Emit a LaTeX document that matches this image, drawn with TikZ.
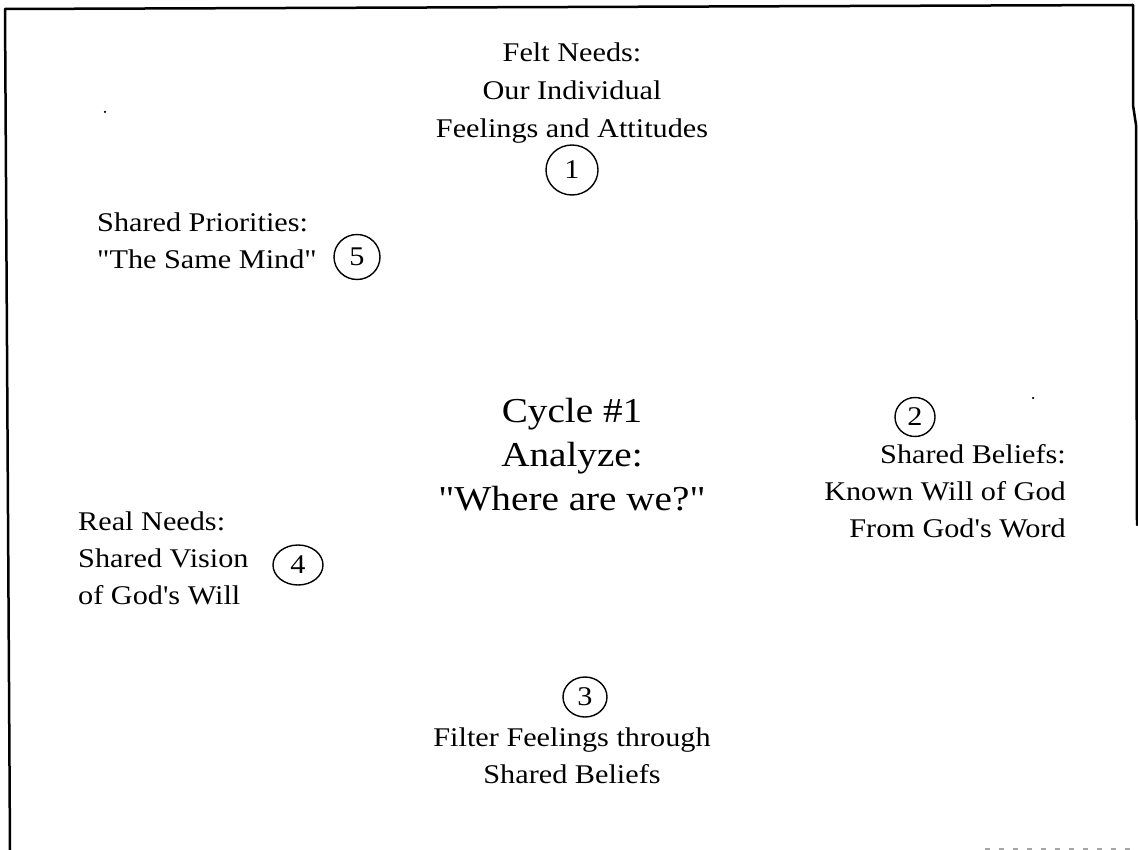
\documentclass[tikz,border=0pt]{standalone}
\usepackage{fontspec}
\setmainfont{Liberation Serif}[FakeStretch=1.12, Ligatures=TeXOff]
\usetikzlibrary{shapes.geometric}
\tikzset{
  txt/.style={inner sep=0pt, font=\fontsize{27}{37}\selectfont},
  big/.style={inner sep=0pt, font=\fontsize{35}{44}\selectfont},
  num/.style={draw, ellipse, inner sep=0pt, line width=1.4pt, font=\fontsize{27}{37}\selectfont},
  frame/.style={line width=2.5pt, line cap=round, line join=round},
  speck/.style={fill=black, circle, inner sep=0pt, minimum size=2.5pt}
}
\begin{document}
\begin{tikzpicture}[x=1pt,y=-1pt]
\useasboundingbox (0,0) rectangle (1138,850);
% frame
\draw[frame] (10,850) -- (5,9) -- (1133,5) -- (1133,105) -- (1136,125) -- (1137,525);
\draw[gray!70, line width=2pt, dash pattern=on 5pt off 9pt] (985,849) -- (1138,849);
% specks
\node[speck] (s1) at (105,112) {};
\node[speck] (s2) at (1033,398) {};
% text blocks
\node[txt, anchor=base] (felt) at (572,62)
  {\fontsize{27}{38}\selectfont\begin{tabular}[t]{@{}c@{}}Felt Needs:\\Our Individual\\Feelings and Attitudes\end{tabular}};
\node[num, minimum width=52pt, minimum height=50pt] (c1) at (572,170) {1};

\node[txt, anchor=base west] (prio) at (97,232)
  {\begin{tabular}[t]{@{}l@{}}Shared Priorities:\\"The Same Mind"\end{tabular}};
\node[num, minimum width=46pt, minimum height=45pt] (c5) at (357,257) {5\hspace{6pt}};

\node[big, anchor=base] (cycle) at (572,422)
  {\begin{tabular}[t]{@{}c@{}}Cycle \#1\\Analyze:\\"Where are we?"\end{tabular}};

\node[num, minimum width=40pt, minimum height=39pt] (c2) at (915,417) {2};
\node[txt, anchor=base east] (beliefs) at (1066,463)
  {\begin{tabular}[t]{@{}r@{}}Shared Beliefs:\\Known Will of God\\From God's Word\end{tabular}};

\node[txt, anchor=base west] (real) at (78,530)
  {\begin{tabular}[t]{@{}l@{}}Real Needs:\\Shared Vision\\of God's Will\end{tabular}};
\node[num, minimum width=50pt, minimum height=40pt] (c4) at (298,565) {4};

\node[num, minimum width=44pt, minimum height=40pt] (c3) at (585,697) {3};
\node[txt, anchor=base] (filter) at (572,746)
  {\begin{tabular}[t]{@{}c@{}}Filter Feelings through\\Shared Beliefs\end{tabular}};
\end{tikzpicture}
\end{document}
